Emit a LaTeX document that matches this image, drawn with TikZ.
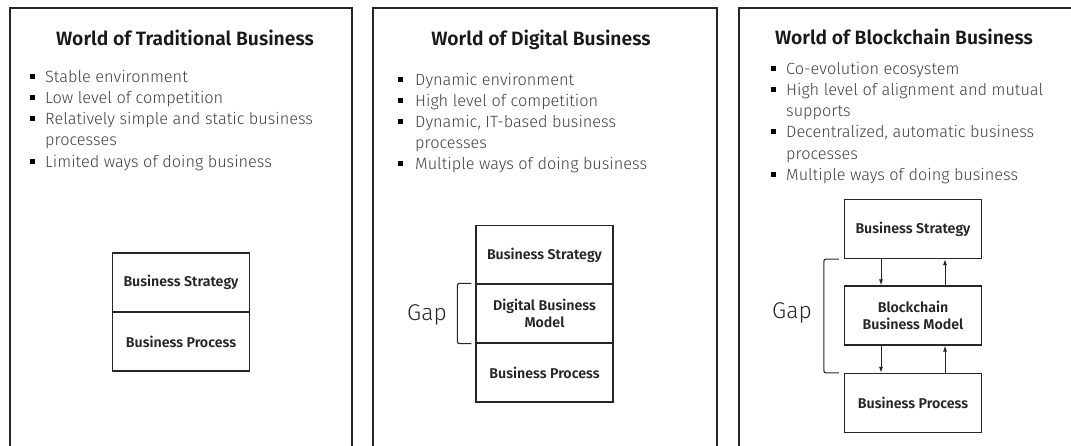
\documentclass[tikz,border=0pt]{standalone}
\usepackage{fontspec}
\setmainfont{Fira Sans}
\newfontfamily\lightfont{Fira Sans}[UprightFont={* Light}]
\newfontfamily\semifont{Fira Sans}[UprightFont={* SemiBold}]
\usetikzlibrary{arrows.meta}
\definecolor{bulgray}{HTML}{404040}
\definecolor{linegray}{HTML}{262626}
\begin{document}
\begin{tikzpicture}[x=1pt,y=-1pt,
  frame/.style={draw=linegray, line width=1.2pt},
  title/.style={font=\semifont\fontsize{19.3}{22}\selectfont, text=black!90, anchor=base, inner sep=0},
  item/.style={font=\lightfont\fontsize{16.3}{19}\selectfont, text=bulgray, anchor=base west, inner sep=0},
  bul/.style={fill=black, minimum size=5pt, inner sep=0},
  bx/.style={draw=linegray, line width=1.2pt, minimum width=137pt, minimum height=59pt,
    font=\semifont\fontsize{14.2}{17}\selectfont, align=center, inner sep=0, text=black!85},
  gaplabel/.style={font=\lightfont\fontsize{22.8}{26}\selectfont, text=black!85, inner sep=0},
  brk/.style={draw=linegray, line width=1.1pt, rounded corners=2pt},
  arr/.style={-{Latex[length=6pt,width=4pt]}, line width=1pt, draw=linegray}]
\useasboundingbox (0,0) rectangle (1071,445);
% frames
\draw[frame] (10,460) -- (10,8) -- (352,8) -- (352,460);
\draw[frame] (373,460) -- (373,8) -- (717,8) -- (717,460);
\draw[frame] (739,460) -- (739,8) -- (1080,8);
% panel 1
\node[title] (T1) at (185,45) {World of Traditional Business};
\node[bul] (b11) at (32,76.5) {};
\node[item] (i11) at (45,82) {Stable environment};
\node[bul] (b12) at (32,97.5) {};
\node[item] (i12) at (45,103) {Low level of competition};
\node[bul] (b13) at (32,118.5) {};
\node[item] (i13) at (45,124) {Relatively simple and static business};
\node[item] (i13b) at (45,145) {processes};
\node[bul] (b14) at (32,161.5) {};
\node[item] (i14) at (45,167) {Limited ways of doing business};
\node[bx] (BS1) at (181,282.5) {Business Strategy};
\node[bx] (BP1) at (181,341.5) {Business Process};
% panel 2
\node[title] (T2) at (541,45) {World of Digital Business};
\node[bul] (b21) at (400,79.5) {};
\node[item] (i21) at (415,85) {Dynamic environment};
\node[bul] (b22) at (400,100.5) {};
\node[item] (i22) at (415,106) {High level of competition};
\node[bul] (b23) at (400,121.5) {};
\node[item] (i23) at (415,127) {Dynamic, IT-based business};
\node[item] (i23b) at (415,148) {processes};
\node[bul] (b24) at (400,163.5) {};
\node[item] (i24) at (415,169) {Multiple ways of doing business};
\node[bx] (BS2) at (544.5,255) {Business Strategy};
\node[bx] (DM2) at (544.5,313.5) {Digital Business\\Model};
\node[bx] (BP2) at (544.5,372.5) {Business Process};
\draw[brk] ([xshift=-4pt]DM2.north west) -- ++(-14,0) |- ([xshift=-4pt]DM2.south west);
\node[gaplabel] (G2) at (427,315) {Gap};
% panel 3
\node[title] (T3) at (904,44) {World of Blockchain Business};
\node[bul] (b31) at (773,68.5) {};
\node[item] (i31) at (786,74) {Co-evolution ecosystem};
\node[bul] (b32) at (773,89.5) {};
\node[item] (i32) at (786,95) {High level of alignment and mutual};
\node[item] (i32b) at (786,116) {supports};
\node[bul] (b33) at (773,131.5) {};
\node[item] (i33) at (786,137) {Decentralized, automatic business};
\node[item] (i33b) at (786,159) {processes};
\node[bul] (b34) at (773,174.5) {};
\node[item] (i34) at (786,180) {Multiple ways of doing business};
\node[bx] (BS3) at (913,229) {Business Strategy};
\node[bx] (BM3) at (913,315.5) {Blockchain\\Business Model};
\node[bx] (BP3) at (913,403) {Business Process};
\draw[arr] ([xshift=-32pt]BS3.south) -- ([xshift=-32pt]BM3.north);
\draw[arr] ([xshift=32pt]BM3.north) -- ([xshift=32pt]BS3.south);
\draw[arr] ([xshift=-32pt]BM3.south) -- ([xshift=-32pt]BP3.north);
\draw[arr] ([xshift=32pt]BP3.north) -- ([xshift=32pt]BM3.south);
\draw[brk] ([xshift=-5pt]BS3.south west) -- ++(-15,0) |- ([xshift=-5pt]BP3.north west);
\node[gaplabel] (G3) at (792,313) {Gap};
\end{tikzpicture}
\end{document}
